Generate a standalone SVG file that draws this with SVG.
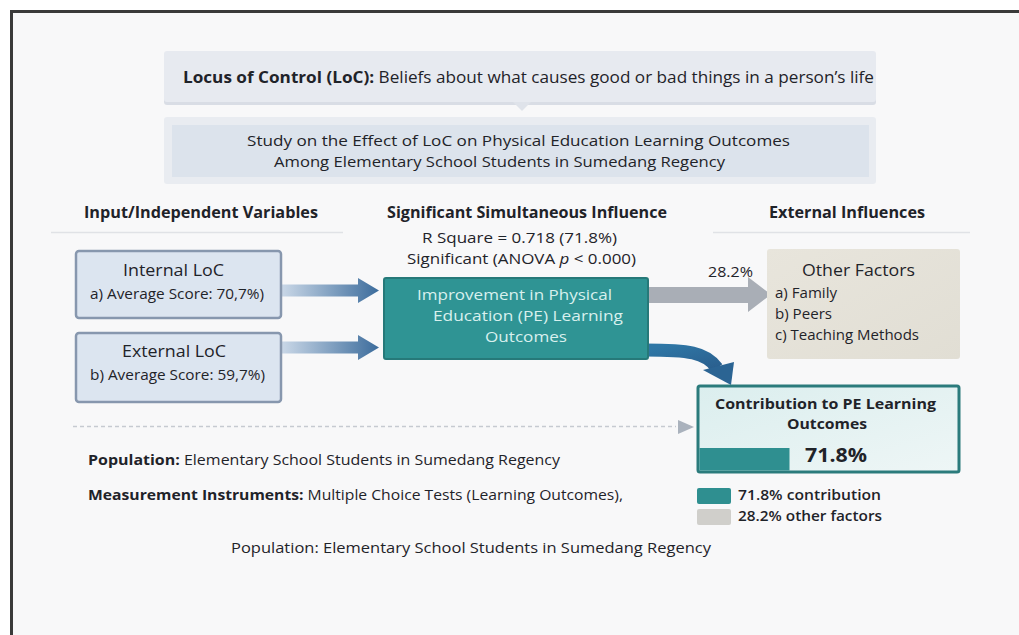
<svg xmlns="http://www.w3.org/2000/svg" width="1019" height="635" viewBox="0 0 1019 635">
  <defs>
    <style>
      text { font-family: "Open Sans", "Liberation Sans", sans-serif; fill: #1f2329; }
      .b { font-weight: 700; }
      .h { font-size: 15.5px; font-weight: 700; }
      .s14 { font-size: 14px; }
      .s15 { font-size: 15px; }
      .loc { fill: #dce5f0; stroke: #8797ae; stroke-width: 2.5; }
      .tealtxt { fill: #d8f0ee; font-size: 15px; }
    </style>
    <linearGradient id="blueArrow" x1="0" y1="0" x2="1" y2="0">
      <stop offset="0" stop-color="#c9d7e7"/>
      <stop offset="1" stop-color="#3c6c9c"/>
    </linearGradient>
    <linearGradient id="curveArrow" x1="0" y1="0" x2="1" y2="1">
      <stop offset="0" stop-color="#2f77a6"/>
      <stop offset="1" stop-color="#2a5f8e"/>
    </linearGradient>
    <linearGradient id="contribFill" x1="0" y1="0" x2="1" y2="1">
      <stop offset="0" stop-color="#dbeeee"/>
      <stop offset="1" stop-color="#eef6f6"/>
    </linearGradient>
    <linearGradient id="beige" x1="0" y1="0" x2="1" y2="1">
      <stop offset="0" stop-color="#e8e5dc"/>
      <stop offset="1" stop-color="#e1ded4"/>
    </linearGradient>
  </defs>

  <!-- page -->
  <rect x="0" y="0" width="1019" height="635" fill="#ffffff"/>
  <rect x="11" y="11" width="1010" height="630" fill="#f8f8f9"/>
  <line x1="10" y1="11.5" x2="1019" y2="11.5" stroke="#3a3a3a" stroke-width="3"/>
  <line x1="11.5" y1="10" x2="11.5" y2="635" stroke="#3a3a3a" stroke-width="3"/>

  <!-- definition banner -->
  <g id="definition">
    <rect x="164" y="53" width="712" height="52" rx="3" fill="#d9dde5"/>
    <rect x="164" y="51" width="712" height="51" rx="3" fill="#e7eaf0"/>
    <polygon points="513,102 531,102 522,111" fill="#dfe3ea"/>
    <text x="183" y="83" style="font-size:16.5px" textLength="691" lengthAdjust="spacingAndGlyphs"><tspan class="b">Locus of Control (LoC):</tspan> Beliefs about what causes good or bad things in a person’s life</text>
  </g>

  <!-- study title -->
  <g id="study">
    <rect x="164" y="117" width="712" height="67" rx="3" fill="#e9ecf1"/>
    <rect x="172" y="125" width="697" height="52" fill="#dce3ec"/>
    <text x="247" y="146" class="s15" textLength="543" lengthAdjust="spacingAndGlyphs">Study on the Effect of LoC on Physical Education Learning Outcomes</text>
    <text x="274" y="167" class="s15" textLength="451" lengthAdjust="spacingAndGlyphs">Among Elementary School Students in Sumedang Regency</text>
  </g>

  <!-- column headers -->
  <g id="headers">
    <text x="84" y="218" class="h" textLength="234" lengthAdjust="spacingAndGlyphs">Input/Independent Variables</text>
    <text x="387" y="218" class="h" textLength="280" lengthAdjust="spacingAndGlyphs">Significant Simultaneous Influence</text>
    <text x="769" y="218" class="h" textLength="156" lengthAdjust="spacingAndGlyphs">External Influences</text>
    <line x1="51" y1="232.5" x2="343" y2="232.5" stroke="#e0e2e6" stroke-width="1.5"/>
    <line x1="713" y1="232.5" x2="970" y2="232.5" stroke="#e0e2e6" stroke-width="1.5"/>
    <text x="422" y="243" class="s15" textLength="195" lengthAdjust="spacingAndGlyphs">R Square = 0.718 (71.8%)</text>
    <text x="407" y="264" class="s15" textLength="229" lengthAdjust="spacingAndGlyphs">Significant (ANOVA <tspan font-style="italic">p</tspan> &lt; 0.000)</text>
  </g>

  <!-- connectors -->
  <g id="connectors">
    <polygon points="282,284.5 358,284.5 358,278 379,290.5 358,303 358,296.5 282,296.5" fill="url(#blueArrow)"/>
    <polygon points="282,341.5 358,341.5 358,335 379,347.5 358,360 358,353.5 282,353.5" fill="url(#blueArrow)"/>
    <polygon points="648,287 748,287 748,277 771,294.5 748,312 748,303 648,303" fill="#a9aeb6"/>
    <path d="M645,350 C688,350 706,352 717,368" fill="none" stroke="url(#curveArrow)" stroke-width="13"/>
    <polygon points="703,370 734,362 731,385" fill="#2b6493"/>
    <line x1="73" y1="426.5" x2="676" y2="426.5" stroke="#c6cad1" stroke-width="1.5" stroke-dasharray="4,3"/>
    <polygon points="678,420 694,427 678,434" fill="#aab2bd"/>
  </g>

  <!-- internal LoC -->
  <g id="internal-loc">
    <rect x="76" y="251" width="205" height="67" rx="3" class="loc"/>
    <text x="123" y="276" style="font-size:17px" textLength="101" lengthAdjust="spacingAndGlyphs">Internal LoC</text>
    <text x="90" y="299" class="s15" textLength="174" lengthAdjust="spacingAndGlyphs">a) Average Score: 70,7%)</text>
  </g>

  <!-- external LoC -->
  <g id="external-loc">
    <rect x="76" y="333" width="205" height="69" rx="3" class="loc"/>
    <text x="122" y="357" style="font-size:17px" textLength="104" lengthAdjust="spacingAndGlyphs">External LoC</text>
    <text x="90" y="380" class="s15" textLength="175" lengthAdjust="spacingAndGlyphs">b) Average Score: 59,7%)</text>
  </g>

  <!-- outcome improvement -->
  <g id="improvement">
    <rect x="384" y="278" width="264" height="81" rx="2" fill="#2f9494" stroke="#267979" stroke-width="2"/>
    <text x="417" y="300" class="tealtxt" textLength="195" lengthAdjust="spacingAndGlyphs">Improvement in Physical</text>
    <text x="433" y="321" class="tealtxt" textLength="190" lengthAdjust="spacingAndGlyphs">Education (PE) Learning</text>
    <text x="485" y="342" class="tealtxt" textLength="82" lengthAdjust="spacingAndGlyphs">Outcomes</text>
  </g>

  <!-- other factors -->
  <g id="other-factors">
    <text x="708" y="277" class="s14" textLength="45" lengthAdjust="spacingAndGlyphs">28.2%</text>
    <rect x="767" y="249" width="193" height="110" rx="3" fill="url(#beige)"/>
    <text x="802" y="276" style="font-size:16px" textLength="113" lengthAdjust="spacingAndGlyphs">Other Factors</text>
    <text x="775" y="298" class="s14" textLength="62" lengthAdjust="spacingAndGlyphs">a) Family</text>
    <text x="775" y="319" class="s14" textLength="57" lengthAdjust="spacingAndGlyphs">b) Peers</text>
    <text x="775" y="340" class="s14" textLength="144" lengthAdjust="spacingAndGlyphs">c) Teaching Methods</text>
  </g>

  <!-- contribution -->
  <g id="contribution">
    <rect x="698" y="386" width="261" height="86" rx="2" fill="url(#contribFill)" stroke="#2b7b7c" stroke-width="3"/>
    <rect x="699.5" y="448" width="90" height="22.5" fill="#2f8f90"/>
    <text x="715" y="409" class="b s15" textLength="221" lengthAdjust="spacingAndGlyphs">Contribution to PE Learning</text>
    <text x="787" y="429" class="b s15" textLength="80" lengthAdjust="spacingAndGlyphs">Outcomes</text>
    <text x="805" y="462" class="b" style="font-size:20px" textLength="62" lengthAdjust="spacingAndGlyphs">71.8%</text>
  </g>

  <!-- study notes -->
  <g id="notes">
    <text x="88" y="465" class="s15" textLength="472" lengthAdjust="spacingAndGlyphs"><tspan class="b">Population:</tspan> Elementary School Students in Sumedang Regency</text>
    <text x="88" y="500" class="s15" textLength="535" lengthAdjust="spacingAndGlyphs"><tspan class="b">Measurement Instruments:</tspan> Multiple Choice Tests (Learning Outcomes),</text>
    <text x="231" y="553" class="s15" textLength="480" lengthAdjust="spacingAndGlyphs">Population: Elementary School Students in Sumedang Regency</text>
  </g>

  <!-- legend -->
  <g id="legend">
    <rect x="697" y="488" width="34" height="16" rx="2" fill="#2f8f90"/>
    <rect x="697" y="509" width="34" height="16" rx="2" fill="#d0cfcb"/>
    <text x="738" y="500" class="s14" font-weight="600" textLength="143" lengthAdjust="spacingAndGlyphs">71.8% contribution</text>
    <text x="738" y="521" class="s14" font-weight="600" textLength="144" lengthAdjust="spacingAndGlyphs">28.2% other factors</text>
  </g>
</svg>
